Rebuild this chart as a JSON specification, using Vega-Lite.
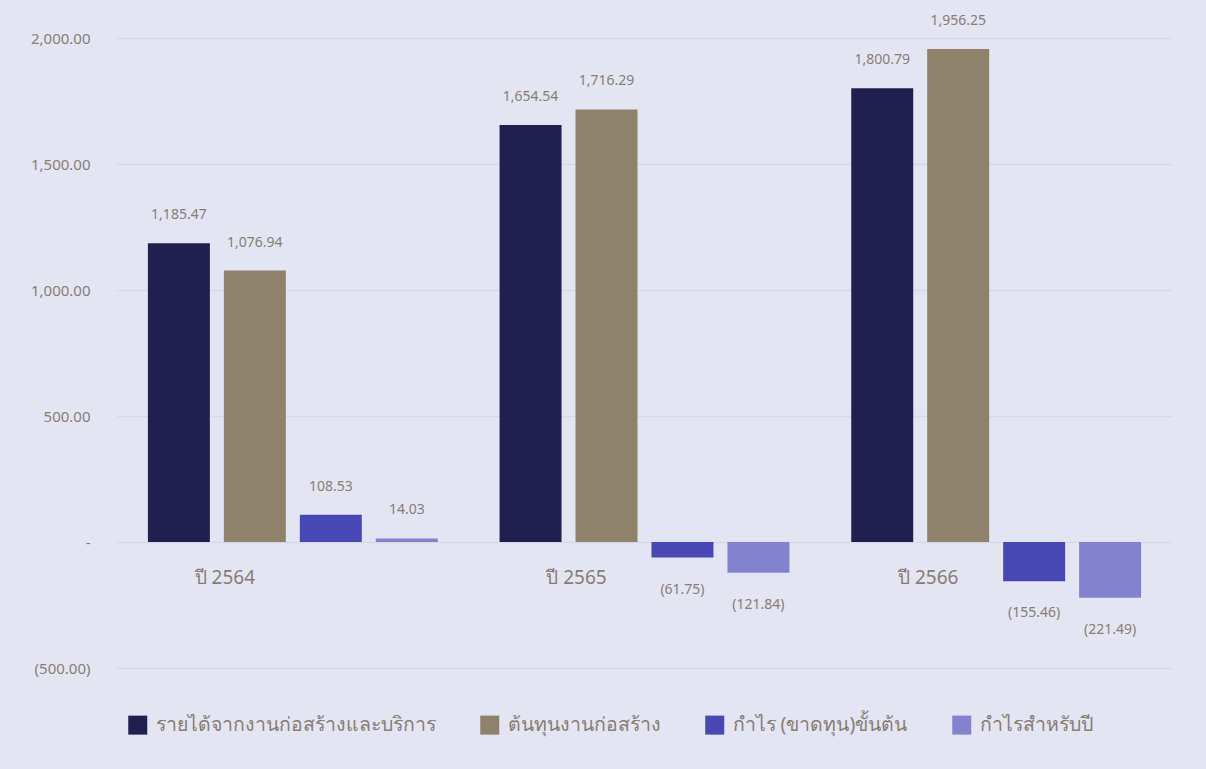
{
  "$schema": "https://vega.github.io/schema/vega-lite/v6.json",
  "width": 1055,
  "height": 630,
  "autosize": {"type": "none"},
  "padding": {"left": 117, "top": 38, "right": 34, "bottom": 101},
  "background": "#e4e5f3",
  "config": {
    "view": {"stroke": null},
    "font": "Noto Sans",
    "axis": {"labelColor": "#877d73", "labelFont": "Noto Sans"},
    "legend": {"labelColor": "#877d73", "labelFont": "Noto Sans"}
  },
  "data": {
    "values": [
      {"year": "ปี 2564", "series": "รายได้จากงานก่อสร้างและบริการ", "value": 1185.47},
      {"year": "ปี 2564", "series": "ต้นทุนงานก่อสร้าง", "value": 1076.94},
      {"year": "ปี 2564", "series": "กำไร (ขาดทุน)ขั้นต้น", "value": 108.53},
      {"year": "ปี 2564", "series": "กำไรสำหรับปี", "value": 14.03},
      {"year": "ปี 2565", "series": "รายได้จากงานก่อสร้างและบริการ", "value": 1654.54},
      {"year": "ปี 2565", "series": "ต้นทุนงานก่อสร้าง", "value": 1716.29},
      {"year": "ปี 2565", "series": "กำไร (ขาดทุน)ขั้นต้น", "value": -61.75},
      {"year": "ปี 2565", "series": "กำไรสำหรับปี", "value": -121.84},
      {"year": "ปี 2566", "series": "รายได้จากงานก่อสร้างและบริการ", "value": 1800.79},
      {"year": "ปี 2566", "series": "ต้นทุนงานก่อสร้าง", "value": 1956.25},
      {"year": "ปี 2566", "series": "กำไร (ขาดทุน)ขั้นต้น", "value": -155.46},
      {"year": "ปี 2566", "series": "กำไรสำหรับปี", "value": -221.49}
    ]
  },
  "encoding": {
    "x": {
      "field": "year", "type": "nominal",
      "scale": {"paddingInner": 0.136, "paddingOuter": 0.068},
      "axis": {
        "title": null, "orient": "bottom", "offset": -125, "domain": false, "ticks": false,
        "labelAngle": 0, "labelFontSize": 19, "labelPadding": 25, "labelOffset": -68
      }
    },
    "xOffset": {
      "field": "series", "type": "nominal",
      "sort": ["รายได้จากงานก่อสร้างและบริการ", "ต้นทุนงานก่อสร้าง", "กำไร (ขาดทุน)ขั้นต้น", "กำไรสำหรับปี"],
      "scale": {"paddingInner": 0.184, "paddingOuter": 0.092}
    },
    "y": {
      "field": "value", "type": "quantitative",
      "scale": {"domain": [-500, 2000], "nice": false, "zero": true},
      "axis": {
        "title": null, "values": [-500, 0, 500, 1000, 1500, 2000], "domain": false, "ticks": false,
        "labelFontSize": 15, "labelPadding": 27, "gridColor": "#d9d8e7", "gridWidth": 1.5,
        "labelExpr": "datum.value == 0 ? '-' : format(datum.value, '(,.2f')"
      }
    }
  },
  "layer": [
    {
      "mark": {"type": "bar"},
      "encoding": {
        "color": {
          "field": "series", "type": "nominal",
          "scale": {
            "domain": ["รายได้จากงานก่อสร้างและบริการ", "ต้นทุนงานก่อสร้าง", "กำไร (ขาดทุน)ขั้นต้น", "กำไรสำหรับปี"],
            "range": ["#1f1f50", "#8f826a", "#4747b5", "#8282ce"]
          },
          "legend": {
            "title": null, "orient": "none", "legendX": 11, "legendY": 677, "direction": "horizontal",
            "symbolType": "square", "symbolSize": 361, "symbolStrokeWidth": 0, "symbolOpacity": 1,
            "labelFontSize": 19.5, "labelOffset": 8, "columnPadding": 44, "labelLimit": 400
          }
        }
      }
    },
    {
      "transform": [{"filter": "datum.value >= 0"}],
      "mark": {"type": "text", "baseline": "middle", "dy": -28, "fontSize": 14, "color": "#877d73"},
      "encoding": {"text": {"field": "value", "type": "quantitative", "format": "(,.2f"}}
    },
    {
      "transform": [{"filter": "datum.value < 0"}],
      "mark": {"type": "text", "baseline": "middle", "dy": 32, "fontSize": 14, "color": "#877d73"},
      "encoding": {"text": {"field": "value", "type": "quantitative", "format": "(,.2f"}}
    }
  ]
}
